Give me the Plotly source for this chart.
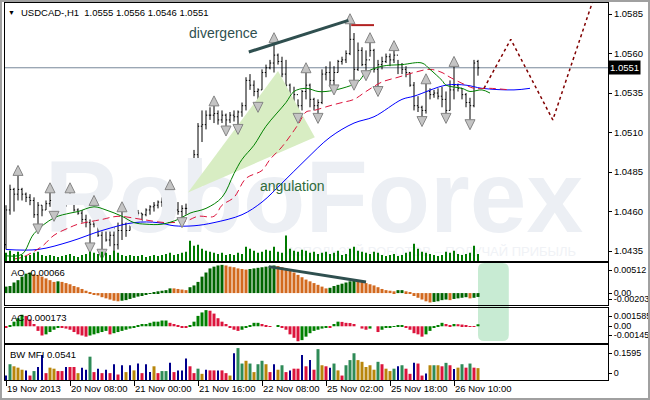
import plotly.graph_objects as go

# ---------------- data ----------------
bar_index = list(range(119))

opens = [1.0439, 1.0461, 1.0474, 1.0471, 1.0474, 1.0471, 1.0469, 1.0467, 1.0458, 1.0464,
         1.0461, 1.0465, 1.0467, 1.0464, 1.0466, 1.0467, 1.0469, 1.0467, 1.0461, 1.0459,
         1.0455, 1.0453, 1.0452, 1.0458, 1.0445, 1.0448, 1.0442, 1.0445, 1.0439, 1.0448,
         1.0452, 1.0448, 1.0453, 1.0455, 1.0459, 1.0458, 1.0461, 1.0463, 1.0464, 1.0466,
         1.0467, 1.0469, 1.0463, 1.0461, 1.0460, 1.0462, 1.0464, 1.0486, 1.0496, 1.0514,
         1.0515, 1.0521, 1.0521, 1.0522, 1.0518, 1.0521, 1.0518, 1.0521, 1.0520, 1.0523,
         1.0527, 1.0543, 1.0540, 1.0536, 1.0537, 1.0548, 1.0551, 1.0554, 1.0559, 1.0555,
         1.0547, 1.0540, 1.0531, 1.0534, 1.0527, 1.0536, 1.0540, 1.0531, 1.0527, 1.0529,
         1.0547, 1.0548, 1.0543, 1.0548, 1.0555, 1.0556, 1.0560, 1.0569, 1.0550, 1.0562,
         1.0553, 1.0556, 1.0562, 1.0550, 1.0553, 1.0555, 1.0558, 1.0556, 1.0559, 1.0553,
         1.0550, 1.0548, 1.0540, 1.0527, 1.0526, 1.0524, 1.0536, 1.0534, 1.0535, 1.0533,
         1.0531, 1.0524, 1.0537, 1.0540, 1.0538, 1.0534, 1.0529, 1.0527, 1.0555]
highs = [1.0464, 1.0477, 1.0475, 1.0483, 1.0475, 1.0472, 1.0471, 1.0469, 1.0466, 1.0464,
         1.0467, 1.0472, 1.0467, 1.0467, 1.0469, 1.0471, 1.0472, 1.0471, 1.0462, 1.0461,
         1.0458, 1.0455, 1.0464, 1.0458, 1.0455, 1.0452, 1.0450, 1.0450, 1.0453, 1.0460,
         1.0453, 1.0455, 1.0456, 1.0461, 1.0459, 1.0462, 1.0464, 1.0466, 1.0467, 1.0469,
         1.0471, 1.0474, 1.0469, 1.0466, 1.0464, 1.0465, 1.0488, 1.0499, 1.0516, 1.0524,
         1.0524, 1.0526, 1.0527, 1.0524, 1.0524, 1.0522, 1.0523, 1.0524, 1.0524, 1.0529,
         1.0545, 1.0547, 1.0543, 1.0538, 1.0550, 1.0553, 1.0556, 1.0567, 1.0560, 1.0558,
         1.0556, 1.0541, 1.0539, 1.0531, 1.0537, 1.0548, 1.0541, 1.0532, 1.0531, 1.0550,
         1.0552, 1.0555, 1.0552, 1.0556, 1.0558, 1.0562, 1.0579, 1.0573, 1.0567, 1.0564,
         1.0562, 1.0567, 1.0563, 1.0556, 1.0558, 1.0560, 1.0560, 1.0562, 1.0556, 1.0554,
         1.0552, 1.0548, 1.0542, 1.0533, 1.0527, 1.0541, 1.0538, 1.0537, 1.0538, 1.0539,
         1.0536, 1.0543, 1.0552, 1.0541, 1.0538, 1.0535, 1.0532, 1.0556, 1.0556]
lows = [1.0436, 1.0458, 1.0460, 1.0467, 1.0467, 1.0466, 1.0464, 1.0456, 1.0452, 1.0457,
        1.0461, 1.0463, 1.0460, 1.0463, 1.0464, 1.0463, 1.0465, 1.0460, 1.0458, 1.0453,
        1.0450, 1.0440, 1.0450, 1.0444, 1.0436, 1.0441, 1.0438, 1.0434, 1.0436, 1.0442,
        1.0444, 1.0448, 1.0450, 1.0453, 1.0453, 1.0457, 1.0458, 1.0460, 1.0462, 1.0463,
        1.0464, 1.0460, 1.0458, 1.0458, 1.0456, 1.0458, 1.0464, 1.0483, 1.0493, 1.0504,
        1.0512, 1.0518, 1.0516, 1.0515, 1.0516, 1.0514, 1.0516, 1.0517, 1.0515, 1.0520,
        1.0524, 1.0537, 1.0533, 1.0529, 1.0537, 1.0545, 1.0550, 1.0548, 1.0553, 1.0545,
        1.0539, 1.0526, 1.0526, 1.0522, 1.0524, 1.0531, 1.0526, 1.0524, 1.0522, 1.0528,
        1.0543, 1.0539, 1.0540, 1.0548, 1.0553, 1.0554, 1.0559, 1.0543, 1.0549, 1.0552,
        1.0549, 1.0558, 1.0548, 1.0539, 1.0550, 1.0554, 1.0552, 1.0554, 1.0547, 1.0547,
        1.0545, 1.0539, 1.0524, 1.0523, 1.0520, 1.0522, 1.0531, 1.0532, 1.0531, 1.0526,
        1.0522, 1.0524, 1.0531, 1.0536, 1.0531, 1.0526, 1.0518, 1.0526, 1.0546]
closes = [1.0461, 1.0474, 1.0471, 1.0474, 1.0471, 1.0469, 1.0467, 1.0458, 1.0464, 1.0461,
          1.0465, 1.0467, 1.0464, 1.0466, 1.0467, 1.0469, 1.0467, 1.0461, 1.0459, 1.0455,
          1.0453, 1.0452, 1.0458, 1.0445, 1.0448, 1.0442, 1.0445, 1.0439, 1.0448, 1.0452,
          1.0448, 1.0453, 1.0455, 1.0459, 1.0458, 1.0461, 1.0463, 1.0464, 1.0466, 1.0467,
          1.0469, 1.0463, 1.0461, 1.0460, 1.0462, 1.0462, 1.0486, 1.0496, 1.0514, 1.0515,
          1.0521, 1.0521, 1.0522, 1.0518, 1.0521, 1.0518, 1.0521, 1.0520, 1.0523, 1.0527,
          1.0543, 1.0540, 1.0536, 1.0537, 1.0548, 1.0551, 1.0554, 1.0559, 1.0555, 1.0547,
          1.0540, 1.0531, 1.0534, 1.0527, 1.0536, 1.0540, 1.0531, 1.0527, 1.0529, 1.0547,
          1.0548, 1.0543, 1.0548, 1.0555, 1.0556, 1.0560, 1.0569, 1.0550, 1.0562, 1.0553,
          1.0556, 1.0562, 1.0550, 1.0553, 1.0555, 1.0558, 1.0556, 1.0559, 1.0553, 1.0550,
          1.0548, 1.0540, 1.0527, 1.0526, 1.0524, 1.0536, 1.0534, 1.0535, 1.0533, 1.0531,
          1.0524, 1.0537, 1.0540, 1.0538, 1.0534, 1.0529, 1.0527, 1.0554, 1.0551]

tick_volume = [320, 400, 280, 360, 240, 200, 240, 320, 360, 240,
               200, 240, 200, 160, 200, 240, 280, 200, 160, 240,
               280, 360, 320, 280, 360, 320, 240, 400, 320, 240,
               200, 240, 200, 200, 240, 160, 200, 240, 200, 240,
               280, 320, 240, 280, 320, 360, 800, 600, 640, 480,
               400, 360, 320, 280, 320, 240, 280, 240, 320, 280,
               560, 480, 400, 320, 360, 440, 400, 560, 360, 320,
               1000, 480, 400, 360, 440, 400, 320, 360, 280, 320,
               360, 280, 320, 400, 240, 280, 480, 560, 400, 360,
               320, 280, 360, 320, 240, 200, 240, 280, 200, 240,
               320, 360, 680, 480, 360, 320, 280, 240, 200, 240,
               360, 320, 400, 280, 240, 280, 320, 600, 280]

fractal_up = [3, 11, 16, 22, 29, 41, 52, 67, 75, 86, 91, 97, 105, 112]
fractal_down = [8, 12, 21, 24, 44, 55, 58, 63, 73, 78, 82, 87, 90, 93, 104, 110, 116]

jaw_idx = [0, 8, 16, 24, 32, 38, 42, 47, 52, 59, 64, 69, 75, 81, 87, 92, 99, 102, 110, 115, 119, 127, 131]
jaw_val = [1.0436, 1.0436, 1.0441, 1.0448, 1.0453, 1.0453, 1.0451, 1.0451, 1.0453, 1.0458, 1.0466, 1.0478,
           1.0493, 1.0507, 1.0516, 1.0520, 1.0531, 1.0533, 1.0540, 1.0540, 1.0538, 1.0537, 1.0538]
teeth_idx = [2, 4, 9, 12, 16, 18, 24, 28, 34, 40, 45, 48, 52, 54, 57, 60, 64, 66, 69, 73, 75, 77, 81, 84,
             87, 90, 94, 98, 102, 106, 109, 111, 115, 117, 121, 126]
teeth_val = [1.0430, 1.0431, 1.0438, 1.0445, 1.0450, 1.0452, 1.0455, 1.0457, 1.0455, 1.0453, 1.0454, 1.0457,
             1.0457, 1.0464, 1.0469, 1.0481, 1.0486, 1.0493, 1.0501, 1.0515, 1.0523, 1.0524, 1.0527, 1.0529,
             1.0531, 1.0536, 1.0542, 1.0545, 1.0548, 1.0550, 1.0548, 1.0545, 1.0540, 1.0538, 1.0538, 1.0537]
lips_idx = [0, 4, 7, 12, 16, 18, 22, 25, 29, 32, 35, 39, 43, 46, 50, 54, 57, 59, 62, 65, 70, 72, 75, 78,
            80, 84, 88, 90, 94, 99, 104, 106, 109, 110, 114, 116, 119, 121]
lips_val = [1.0432, 1.0433, 1.0446, 1.0456, 1.0459, 1.0460, 1.0463, 1.0461, 1.0457, 1.0453, 1.0452, 1.0452,
            1.0455, 1.0459, 1.0462, 1.0469, 1.0484, 1.0493, 1.0502, 1.0514, 1.0529, 1.0536, 1.0538, 1.0536,
            1.0536, 1.0538, 1.0542, 1.0548, 1.0552, 1.0553, 1.0554, 1.0550, 1.0543, 1.0540, 1.0538, 1.0536,
            1.0537, 1.0535]

ao_values = [0.0011, 0.0012, 0.0018, 0.0022, 0.0028, 0.0033, 0.0035, 0.0032, 0.0031, 0.0028,
             0.0025, 0.0022, 0.0019, 0.0020, 0.0019, 0.0017, 0.0015, 0.0012, 0.0010, 0.0007,
             0.0004, 0.0001, -0.0002, -0.0004, -0.0007, -0.0009, -0.0011, -0.0013, -0.0014, -0.0013,
             -0.0012, -0.0010, -0.0008, -0.0006, -0.0005, -0.0003, -0.0001, 0.0001, 0.0003, 0.0004,
             0.0005, 0.0008, 0.0008, 0.0007, 0.0006, 0.0005, 0.0010, 0.0013, 0.0019, 0.0028,
             0.0035, 0.0042, 0.0045, 0.0047, 0.0048, 0.0047, 0.0045, 0.0044, 0.0042, 0.0041,
             0.0040, 0.0041, 0.0042, 0.0043, 0.0044, 0.0045, 0.0046, 0.0047, 0.0046, 0.0044,
             0.0042, 0.0039, 0.0035, 0.0031, 0.0027, 0.0023, 0.0020, 0.0017, 0.0014, 0.0011,
             0.0008, 0.0009, 0.0012, 0.0014, 0.0016, 0.0018, 0.0020, 0.0022, 0.0021, 0.0019,
             0.0017, 0.0015, 0.0013, 0.0010, 0.0007, 0.0005, 0.0004, 0.0003, 0.0005, 0.0005,
             0.0003, 0.0001, -0.0005, -0.0008, -0.0011, -0.0014, -0.0016, -0.0015, -0.0014, -0.0012,
             -0.0011, -0.0012, -0.0010, -0.0009, -0.0008, -0.0007, -0.0009, -0.0008, -0.00066]
ao_dirs = ("gggggggoooooog" "ooooooooooooooo" "ggggggggggggg" "oooo" "ggggggggg" "oooooo"
           "ggggggg" "ooooooooooooo" "ggggggg" "oooooooooo" "gg" "ooooooo" "gggg" "o" "gggg" "o" "gg")

ac_values = [-0.0001, 0.00005, 0.0004, 0.0007, 0.0010, 0.0009, 0.0006, 0.0002, -0.0004, -0.0008,
             -0.0007, -0.0005, -0.0003, -0.0001, -0.0001, -0.0002, -0.0003, -0.0005, -0.0007, -0.0008,
             -0.0009, -0.0008, -0.0007, -0.0006, -0.0005, -0.0004, -0.0007, -0.0006, -0.0005, -0.0004,
             -0.0003, -0.0002, -0.0001, 0.0001, 0.0002, 0.0002, 0.0003, 0.0004, 0.0004, 0.0005,
             0.0005, 0.0003, 0.0002, 0.0001, -0.0001, -0.0001, 0.0001, 0.0004, 0.0009, 0.0012,
             0.0014, 0.00135, 0.0011, 0.0007, 0.0004, 0.0002, -0.0001, -0.0003, -0.0004, -0.0003,
             -0.0001, 0.0001, 0.0003, 0.0003, 0.0002, 0.0001, -0.00005, 0.0, 0.00005, -0.0001,
             -0.0003, -0.0007, -0.0010, -0.0013, -0.0012, -0.0009, -0.0006, -0.0004, -0.0003, -0.0002,
             -0.0001, -0.00015, 0.0002, 0.0004, 0.00038, 0.0003, 0.00028, 0.0002, 0.0, -0.0002,
             -0.0003, -0.0002, 0.0, -0.0005, -0.0003, -0.00015, -0.0001, -0.00005, 0.00003, 0.00005,
             -0.0001, -0.0003, -0.0006, -0.0007, -0.0009, -0.0007, -0.0004, -0.0001, 0.0001, 0.0003,
             0.0002, 0.0001, 0.0002, 0.00018, 0.00015, 0.00005, 0.00002, -0.00005, 0.000173]
ac_dirs = ("r" "gggg" "rrrrr" "gggg" "rrrrrrr" "ggggg" "r" "gggggggggggggg" "rrrrr" "ggggg"
           "rrrrrrrr" "ggggg" "rrr" "gg" "rrrrr" "ggggggg" "r" "gg" "rrrrrrr" "gg" "r"
           "gggggg" "rrrrr" "ggggg" "rr" "g" "rrrrr" "g")

mfi_values = [0.0203, 0.0719, 0.0625, 0.0563, 0.0469, 0.0438, 0.0203, 0.0407, 0.0594, 0.1141,
              0.0313, 0.0563, 0.0516, 0.0407, 0.0407, 0.0594, 0.0594, 0.0594, 0.0313, 0.0563,
              0.0469, 0.1063, 0.0360, 0.0516, 0.0313, 0.0469, 0.0313, 0.0719, 0.0250, 0.0672,
              0.0360, 0.0672, 0.0438, 0.0750, 0.0313, 0.0719, 0.0360, 0.0625, 0.0313, 0.0407,
              0.0407, 0.0782, 0.0360, 0.0438, 0.0438, 0.0985, 0.0625, 0.0313, 0.0516, 0.0281,
              0.0469, 0.0438, 0.0438, 0.0438, 0.0438, 0.0313, 0.0203, 0.1219, 0.1454, 0.0750,
              0.0876, 0.0750, 0.0360, 0.0719, 0.0876, 0.0719, 0.0360, 0.0719, 0.0469, 0.0672,
              0.0360, 0.0438, 0.0516, 0.0516, 0.1141, 0.0625, 0.0907, 0.0469, 0.1407, 0.0672,
              0.0625, 0.0563, 0.0750, 0.0438, 0.0203, 0.0672, 0.0907, 0.1219, 0.0907, 0.0829,
              0.0594, 0.0672, 0.0469, 0.0829, 0.0719, 0.0516, 0.0407, 0.0516, 0.0625, 0.0672,
              0.0516, 0.0281, 0.0782, 0.0750, 0.0203, 0.0300, 0.0672, 0.0672, 0.0672, 0.0625,
              0.0782, 0.0672, 0.0500, 0.0563, 0.0719, 0.0563, 0.0750, 0.0563, 0.0541]
mfi_kinds = ("ngbbbnrgnn" "rbbrrnrrbn" "ngrnrnrnrn" "bnbnrnnbrg" "gnrnnnrrgb"
             "nrrnrrbngg" "bgbggbrnbg" "rnrrnrnrgb" "rngbrgggbb" "bbbgrbbgng"
             "rrnrrnbgbr" "grnbgrgrb")

forecast_idx = [119.5, 126.2, 136.7, 146.8]
forecast_price = [1.0538, 1.0569, 1.0518, 1.0594]

triangle_idx = [45.5, 68.0, 77.2, 45.5]
triangle_price = [1.0472, 1.0549, 1.0507, 1.0472]

divergence_idx = [60.7, 85.6]
divergence_price = [1.0561, 1.0581]
top_level_idx = [86.3, 92.0]
top_level_price = [1.0578, 1.0578]
ao_div_idx = [65.7, 90.0]
ao_div_val = [0.0045, 0.0019]

last_price = 1.0551
title_text = "USDCAD-,H1  1.0555 1.0556 1.0546 1.0551"

x_tick_idx = [0, 16, 32, 48, 64, 80, 96, 112]
x_tick_labels = ["19 Nov 2013", "20 Nov 08:00", "21 Nov 00:00", "21 Nov 16:00",
                 "22 Nov 08:00", "25 Nov 02:00", "25 Nov 18:00", "26 Nov 10:00"]
price_ticks = [1.0435, 1.0460, 1.0485, 1.0510, 1.0535, 1.0560, 1.0585]
price_tick_labels = ["1.0435", "1.0460", "1.0485", "1.0510", "1.0535", "1.0560", "1.0585"]
ao_ticks = [0.00512, 0.0, -0.00203]
ao_tick_labels = ["0.00512", "0.00", "-0.00203"]
ac_ticks = [0.001585, 0.0, -0.00145]
ac_tick_labels = ["0.001585", "0.00", "-0.00145"]
mfi_ticks = [0.1595, 0.0]
mfi_tick_labels = ["0.1595", "0"]

# ---------------- layout geometry ----------------
W, H = 650, 400
def fx(px):
    return px / W
def fy(py):
    return 1 - py / H

X_DOM = [fx(5), fx(608)]
MAIN_DOM = [fy(261), fy(3)]
AO_DOM = [fy(305), fy(263)]
AC_DOM = [fy(343), fy(308)]
MFI_DOM = [fy(380), fy(345)]
X_RANGE = [-0.25, 150.5]
PRICE_RANGE = [1.04287, 1.05920]
AO_RANGE = [-0.00203, 0.00512]
AC_RANGE = [-0.00145, 0.001585]
MFI_RANGE = [0, 0.1595]
VOL_RANGE = [0, 10160]

FONT = "Liberation Sans, Arial, sans-serif"

def inset(vals, rng, dom, px_list):
    per_px = (rng[1] - rng[0]) / ((dom[1] - dom[0]) * H)
    return [v + p * per_px for v, p in zip(vals, px_list)]

fig = go.Figure()

# watermark (drawn first, underneath)
fig.add_trace(go.Scatter(x=[77], y=[1.0463], mode="text", text=["RoboForex"],
                         textfont=dict(family=FONT, size=102, color="#eceff4", weight="bold"),
                         hoverinfo="skip", showlegend=False, xaxis="x", yaxis="y"))
fig.add_trace(go.Scatter(x=[106], y=[1.04338], mode="text",
                         text=["ИСПОЛЬЗУЙ РОБОТОВ – ПОЛУЧАЙ ПРИБЫЛЬ"],
                         textfont=dict(family=FONT, size=13, color="#f0f2f6"),
                         hoverinfo="skip", showlegend=False, xaxis="x", yaxis="y"))

# angulation triangle
fig.add_trace(go.Scatter(x=triangle_idx, y=triangle_price, fill="toself", mode="lines",
                         line=dict(width=0), fillcolor="#d8edc3", hoverinfo="skip",
                         showlegend=False, xaxis="x", yaxis="y"))

# tick volume
fig.add_trace(go.Bar(x=bar_index, y=tick_volume, width=0.25, marker_color="#007a00",
                     marker_line_width=0, showlegend=False, xaxis="x", yaxis="y5"))

# alligator
fig.add_trace(go.Scatter(x=jaw_idx, y=jaw_val, mode="lines", line=dict(color="#0000ff", width=1, shape="spline"),
                         showlegend=False, xaxis="x", yaxis="y"))
fig.add_trace(go.Scatter(x=teeth_idx, y=teeth_val, mode="lines",
                         line=dict(color="#dc143c", width=1, dash="7px,4px", shape="spline"),
                         showlegend=False, xaxis="x", yaxis="y"))
fig.add_trace(go.Scatter(x=lips_idx, y=lips_val, mode="lines", line=dict(color="#008000", width=1, shape="spline"),
                         showlegend=False, xaxis="x", yaxis="y"))

# price bars
fig.add_trace(go.Ohlc(x=bar_index, open=opens, high=highs, low=lows, close=closes,
                      increasing=dict(line=dict(color="black", width=1)),
                      decreasing=dict(line=dict(color="black", width=1)),
                      tickwidth=0.3, showlegend=False, xaxis="x", yaxis="y"))

# fractals
FR_OFF = 0.00062
fig.add_trace(go.Scatter(x=fractal_up, y=[highs[i] + FR_OFF for i in fractal_up], mode="markers",
                         marker=dict(symbol="arrow-up", size=10, color="#c4c4c4",
                                     line=dict(color="#858585", width=1)),
                         showlegend=False, xaxis="x", yaxis="y"))
fig.add_trace(go.Scatter(x=fractal_down, y=[lows[i] - FR_OFF for i in fractal_down], mode="markers",
                         marker=dict(symbol="arrow-down", size=10, color="#c4c4c4",
                                     line=dict(color="#858585", width=1)),
                         showlegend=False, xaxis="x", yaxis="y"))

# divergence lines, level, forecast
fig.add_trace(go.Scatter(x=divergence_idx, y=divergence_price, mode="lines",
                         line=dict(color="#2f4f4f", width=3), showlegend=False, xaxis="x", yaxis="y"))
fig.add_trace(go.Scatter(x=top_level_idx, y=top_level_price, mode="lines",
                         line=dict(color="#b22222", width=2), showlegend=False, xaxis="x", yaxis="y"))
fig.add_trace(go.Scatter(x=forecast_idx, y=forecast_price, mode="lines",
                         line=dict(color="#800000", width=1.5, dash="dot"), showlegend=False,
                         xaxis="x", yaxis="y"))

# AO
ao_cmap = {"g": "#006400", "o": "#d2691e"}
fig.add_trace(go.Bar(x=bar_index, y=ao_values, width=0.75, marker_color=[ao_cmap[c] for c in ao_dirs],
                     marker_line_width=0, showlegend=False, xaxis="x2", yaxis="y2"))
fig.add_trace(go.Scatter(x=ao_div_idx, y=ao_div_val, mode="lines", line=dict(color="#2f4f4f", width=3),
                         showlegend=False, xaxis="x2", yaxis="y2"))

# AC
ac_cmap = {"g": "#008000", "r": "#dc143c"}
fig.add_trace(go.Bar(x=bar_index, y=ac_values, width=0.75, marker_color=[ac_cmap[c] for c in ac_dirs],
                     marker_line_width=0, showlegend=False, xaxis="x3", yaxis="y3"))

# BW MFI
mfi_cmap = {"g": "#2e8b57", "b": "#b8860b", "r": "#dc143c", "n": "#00008b"}
wide_x = [i for i, k in zip(bar_index, mfi_kinds) if k != "n"]
wide_y = [v for v, k in zip(mfi_values, mfi_kinds) if k != "n"]
wide_c = [mfi_cmap[k] for k in mfi_kinds if k != "n"]
thin_x = [i for i, k in zip(bar_index, mfi_kinds) if k == "n"]
thin_y = [v for v, k in zip(mfi_values, mfi_kinds) if k == "n"]
fig.add_trace(go.Bar(x=wide_x, y=wide_y, width=0.75, marker_color=wide_c, marker_line_width=0,
                     showlegend=False, xaxis="x4", yaxis="y4"))
fig.add_trace(go.Bar(x=thin_x, y=thin_y, width=0.3, marker_color=mfi_cmap["n"], marker_line_width=0,
                     showlegend=False, xaxis="x4", yaxis="y4"))

axis_common = dict(showgrid=False, zeroline=False, showline=True, mirror=True, linecolor="black",
                   linewidth=1, tickfont=dict(family=FONT, size=9.5, color="black"))
yax_common = dict(axis_common, side="right", ticks="outside", ticklen=3, tickcolor="black",
                  ticklabelstandoff=0)
sub_font = dict(family=FONT, size=9, color="black")

fig.update_layout(
    width=W, height=H, margin=dict(l=0, r=0, t=0, b=0, autoexpand=False),
    paper_bgcolor="white", plot_bgcolor="white", barmode="overlay", showlegend=False,
    xaxis=dict(axis_common, domain=X_DOM, range=X_RANGE, anchor="y", showticklabels=False,
               ticks="", rangeslider=dict(visible=False)),
    xaxis2=dict(axis_common, domain=X_DOM, range=X_RANGE, anchor="y2", showticklabels=False, ticks="",
                matches="x"),
    xaxis3=dict(axis_common, domain=X_DOM, range=X_RANGE, anchor="y3", showticklabels=False, ticks="",
                matches="x"),
    xaxis4=dict(axis_common, domain=X_DOM, range=X_RANGE, anchor="y4", matches="x",
                tickvals=x_tick_idx, ticktext=x_tick_labels, ticks="outside", ticklen=5,
                tickcolor="black", ticklabelposition="outside right", tickangle=0),
    yaxis=dict(yax_common, domain=MAIN_DOM, range=PRICE_RANGE, anchor="x",
               tickvals=price_ticks, ticktext=price_tick_labels),
    yaxis5=dict(domain=MAIN_DOM, range=VOL_RANGE, overlaying="y", visible=False, anchor="x"),
    yaxis2=dict(yax_common, domain=AO_DOM, range=AO_RANGE, anchor="x2", tickfont=sub_font,
                tickvals=inset(ao_ticks, AO_RANGE, AO_DOM, [-7, 0, 6]), ticktext=ao_tick_labels),
    yaxis3=dict(yax_common, domain=AC_DOM, range=AC_RANGE, anchor="x3", tickfont=sub_font,
                tickvals=inset(ac_ticks, AC_RANGE, AC_DOM, [-8, 0, 8]), ticktext=ac_tick_labels),
    yaxis4=dict(yax_common, domain=MFI_DOM, range=MFI_RANGE, anchor="x4", tickfont=sub_font,
                tickvals=inset(mfi_ticks, MFI_RANGE, MFI_DOM, [-8, 7]), ticktext=mfi_tick_labels),
)

shapes = [
    dict(type="line", xref="paper", yref="y", x0=X_DOM[0], x1=X_DOM[1], y0=last_price, y1=last_price,
         line=dict(color="#778899", width=1), layer="below"),
    dict(type="rect", xref="paper", yref="paper", x0=0.0015, x1=0.9985, y0=0.0025, y1=0.9975,
         line=dict(color="#a0a0a0", width=2)),
]
# rounded highlight box spanning AO and AC panels
bx0, bx1 = 118.0, 125.7
by0, by1 = fy(341), fy(263)
rx, ry = 1.6, 6 / H
path = (f"M {bx0+rx},{by0} L {bx1-rx},{by0} Q {bx1},{by0} {bx1},{by0+ry} "
        f"L {bx1},{by1-ry} Q {bx1},{by1} {bx1-rx},{by1} L {bx0+rx},{by1} "
        f"Q {bx0},{by1} {bx0},{by1-ry} L {bx0},{by0+ry} Q {bx0},{by0} {bx0+rx},{by0} Z")
shapes.append(dict(type="path", xref="x2", yref="paper", path=path, fillcolor="#c8ebd3",
                   line=dict(width=0), layer="below"))
fig.update_layout(shapes=shapes)

ann_font = dict(family=FONT, size=9.5, color="black")
annotations = [
    dict(xref="paper", yref="paper", x=fx(6), y=fy(13), text="▼", showarrow=False,
         xanchor="left", yanchor="middle", font=dict(family=FONT, size=7, color="black")),
    dict(xref="paper", yref="paper", x=fx(19), y=fy(13), text=title_text, showarrow=False,
         xanchor="left", yanchor="middle", font=ann_font),
    dict(xref="paper", yref="paper", x=fx(9), y=fy(272), text="AO -0.00066", showarrow=False,
         xanchor="left", yanchor="middle", font=ann_font),
    dict(xref="paper", yref="paper", x=fx(9), y=fy(317), text="AC 0.000173", showarrow=False,
         xanchor="left", yanchor="middle", font=ann_font),
    dict(xref="paper", yref="paper", x=fx(8), y=fy(354), text="BW MFI 0.0541", showarrow=False,
         xanchor="left", yanchor="middle", font=ann_font),
    dict(xref="paper", yref="paper", x=fx(187), y=fy(33), text="divergence", showarrow=False,
         xanchor="left", yanchor="middle", font=dict(family=FONT, size=14, color="#2f4f4f")),
    dict(xref="paper", yref="paper", x=fx(258), y=fy(186), text="angulation", showarrow=False,
         xanchor="left", yanchor="middle", font=dict(family=FONT, size=14, color="#2e6b3a")),
    dict(xref="paper", yref="y", x=fx(608), y=last_price, text="1.0551", showarrow=False,
         xanchor="left", yanchor="middle", bgcolor="black", borderpad=1,
         font=dict(family=FONT, size=9.5, color="white")),
]
fig.update_layout(annotations=annotations)

fig.write_html("out.html", config={"displayModeBar": False},
               post_script="document.body.style.margin='0';document.body.style.padding='0';"
                           "document.body.style.overflow='hidden';")
